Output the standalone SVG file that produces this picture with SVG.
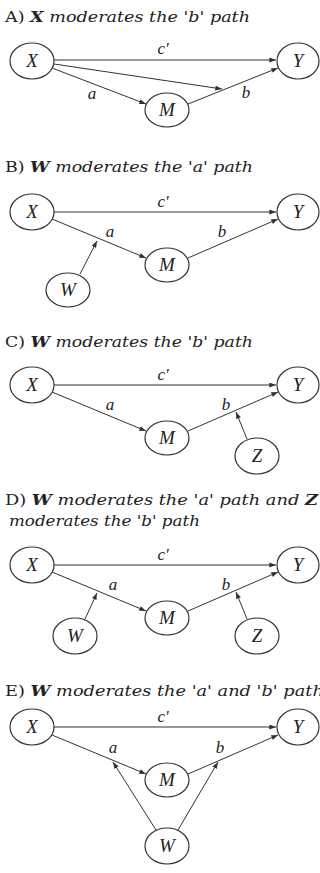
<svg xmlns="http://www.w3.org/2000/svg" width="320" height="873" viewBox="0 0 320 873">
<defs>
<marker id="ah" viewBox="0 0 8 6" refX="8" refY="3" markerWidth="7" markerHeight="5" markerUnits="userSpaceOnUse" orient="auto">
<path d="M0,0 L8,3 L0,6 z" fill="#333"/>
</marker>
<style>
.t{font-family:"DejaVu Serif","Liberation Serif",serif;font-style:italic;font-size:15px;fill:#222}
.t .u{font-style:normal}
.t .v{font-weight:bold}
.n ellipse{fill:#fff;stroke:#333;stroke-width:1.2}
.n text{font-family:"Liberation Serif",serif;font-style:italic;font-size:19px;fill:#222;text-anchor:middle}
.l{font-family:"Liberation Serif",serif;font-style:italic;font-size:17px;fill:#222;text-anchor:middle}
.e line{stroke:#333;stroke-width:1;marker-end:url(#ah)}
</style>
</defs>
<rect width="320" height="873" fill="#fff"/>

<!-- Titles -->
<text class="t" x="5" y="22" textLength="245" lengthAdjust="spacingAndGlyphs"><tspan class="u">A) </tspan><tspan class="v">X</tspan> moderates the 'b' path</text>
<text class="t" x="5" y="172" textLength="248" lengthAdjust="spacingAndGlyphs"><tspan class="u">B) </tspan><tspan class="v">W</tspan> moderates the 'a' path</text>
<text class="t" x="5" y="347" textLength="248" lengthAdjust="spacingAndGlyphs"><tspan class="u">C) </tspan><tspan class="v">W</tspan> moderates the 'b' path</text>
<text class="t" x="5" y="505" textLength="313" lengthAdjust="spacingAndGlyphs"><tspan class="u">D) </tspan><tspan class="v">W</tspan> moderates the 'a' path and <tspan class="v">Z</tspan></text>
<text class="t" x="9" y="526" textLength="191" lengthAdjust="spacingAndGlyphs">moderates the 'b' path</text>
<text class="t" x="5" y="696" textLength="328" lengthAdjust="spacingAndGlyphs"><tspan class="u">E) </tspan><tspan class="v">W</tspan> moderates the 'a' and 'b' paths</text>

<!-- Connectors -->
<g id="connectors" class="e">
<!-- A -->
<line x1="54" y1="60" x2="276" y2="60"/>
<line x1="52" y1="68" x2="146" y2="104"/>
<line x1="188" y1="104" x2="278" y2="68"/>
<line x1="54" y1="64" x2="222" y2="89"/>
<!-- B -->
<line x1="54" y1="212" x2="276" y2="212"/>
<line x1="52" y1="219" x2="146" y2="258"/>
<line x1="188" y1="258" x2="278" y2="219"/>
<line x1="80" y1="274" x2="97" y2="241"/>
<!-- C -->
<line x1="54" y1="385" x2="276" y2="385"/>
<line x1="52" y1="392" x2="146" y2="431"/>
<line x1="188" y1="431" x2="278" y2="392"/>
<line x1="247" y1="439" x2="236" y2="412"/>
<!-- D -->
<line x1="54" y1="565" x2="276" y2="565"/>
<line x1="52" y1="572" x2="146" y2="611"/>
<line x1="188" y1="611" x2="278" y2="572"/>
<line x1="85" y1="619" x2="97" y2="593"/>
<line x1="247" y1="619" x2="236" y2="592"/>
<!-- E -->
<line x1="54" y1="727" x2="276" y2="727"/>
<line x1="52" y1="735" x2="146" y2="774"/>
<line x1="188" y1="774" x2="278" y2="735"/>
<line x1="156" y1="830" x2="113" y2="762"/>
<line x1="178" y1="830" x2="218" y2="762"/>
</g>

<!-- Path labels -->
<g id="labels">
<text class="l" x="163" y="54">c'</text>
<text class="l" x="92" y="99">a</text>
<text class="l" x="246" y="98">b</text>
<text class="l" x="163" y="207">c'</text>
<text class="l" x="110" y="237">a</text>
<text class="l" x="222" y="237">b</text>
<text class="l" x="163" y="380">c'</text>
<text class="l" x="110" y="410">a</text>
<text class="l" x="226" y="410">b</text>
<text class="l" x="163" y="560">c'</text>
<text class="l" x="113" y="590">a</text>
<text class="l" x="226" y="590">b</text>
<text class="l" x="163" y="722">c'</text>
<text class="l" x="113" y="753">a</text>
<text class="l" x="220" y="753">b</text>
</g>

<!-- Panel A nodes -->
<g id="A-X" class="n"><ellipse cx="32" cy="61" rx="22" ry="18"/><text x="32" y="67">X</text></g>
<g id="A-Y" class="n"><ellipse cx="298" cy="61" rx="21" ry="18"/><text x="298" y="67">Y</text></g>
<g id="A-M" class="n"><ellipse cx="167" cy="110" rx="22" ry="17"/><text x="167" y="116">M</text></g>

<!-- Panel B nodes -->
<g id="B-X" class="n"><ellipse cx="32" cy="212" rx="22" ry="18"/><text x="32" y="218">X</text></g>
<g id="B-Y" class="n"><ellipse cx="298" cy="212" rx="21" ry="18"/><text x="298" y="218">Y</text></g>
<g id="B-M" class="n"><ellipse cx="167" cy="265" rx="22" ry="17"/><text x="167" y="271">M</text></g>
<g id="B-W" class="n"><ellipse cx="68" cy="290" rx="22" ry="17"/><text x="68" y="296">W</text></g>

<!-- Panel C nodes -->
<g id="C-X" class="n"><ellipse cx="32" cy="385" rx="22" ry="18"/><text x="32" y="391">X</text></g>
<g id="C-Y" class="n"><ellipse cx="298" cy="385" rx="21" ry="18"/><text x="298" y="391">Y</text></g>
<g id="C-M" class="n"><ellipse cx="167" cy="438" rx="22" ry="17"/><text x="167" y="444">M</text></g>
<g id="C-Z" class="n"><ellipse cx="257" cy="456" rx="22" ry="18"/><text x="257" y="462">Z</text></g>

<!-- Panel D nodes -->
<g id="D-X" class="n"><ellipse cx="32" cy="565" rx="22" ry="18"/><text x="32" y="571">X</text></g>
<g id="D-Y" class="n"><ellipse cx="298" cy="565" rx="21" ry="18"/><text x="298" y="571">Y</text></g>
<g id="D-M" class="n"><ellipse cx="167" cy="618" rx="22" ry="17"/><text x="167" y="624">M</text></g>
<g id="D-W" class="n"><ellipse cx="75" cy="636" rx="22" ry="18"/><text x="75" y="642">W</text></g>
<g id="D-Z" class="n"><ellipse cx="257" cy="636" rx="22" ry="18"/><text x="257" y="642">Z</text></g>

<!-- Panel E nodes -->
<g id="E-X" class="n"><ellipse cx="32" cy="727" rx="22" ry="18"/><text x="32" y="733">X</text></g>
<g id="E-Y" class="n"><ellipse cx="298" cy="727" rx="21" ry="18"/><text x="298" y="733">Y</text></g>
<g id="E-M" class="n"><ellipse cx="167" cy="780" rx="22" ry="17"/><text x="167" y="786">M</text></g>
<g id="E-W" class="n"><ellipse cx="167" cy="846" rx="22" ry="18"/><text x="167" y="852">W</text></g>
</svg>
